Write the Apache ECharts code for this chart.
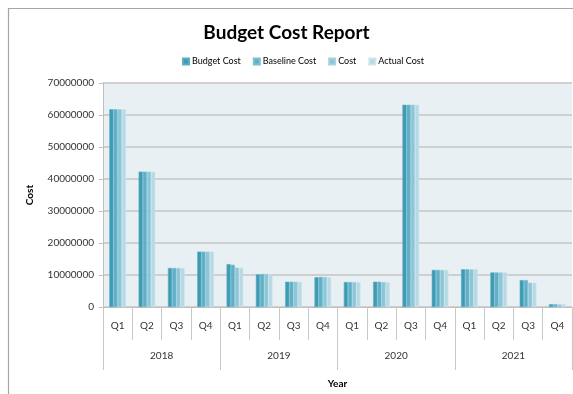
<!DOCTYPE html>
<html>
<head>
<meta charset="utf-8">
<script src="https://cdn.jsdelivr.net/npm/echarts@6/dist/echarts.min.js"></script>
<style>html,body{margin:0;padding:0;background:#fff}#c{width:573px;height:394px}</style>
</head>
<body>
<div id="c"></div>
<script>
var quarters = ['Q1','Q2','Q3','Q4','Q1','Q2','Q3','Q4','Q1','Q2','Q3','Q4','Q1','Q2','Q3','Q4'];
var years = ['2018','2019','2020','2021'];
var seriesNames = ['Budget Cost','Baseline Cost','Cost','Actual Cost'];
var budgetCost   = [61800000,42300000,12200000,17300000,13400000,10200000,7900000,9300000,7800000,7900000,63200000,11600000,11800000,10800000,8400000,900000];
var baselineCost = [61800000,42300000,12200000,17300000,13200000,10300000,7900000,9400000,7800000,7900000,63200000,11600000,11800000,10800000,8400000,900000];
var cost         = [61800000,42300000,12200000,17300000,12300000,10300000,7900000,9400000,7800000,7800000,63200000,11600000,11800000,10800000,7600000,800000];
var actualCost   = [61800000,42300000,12200000,17300000,12300000,10200000,7900000,9300000,7800000,7700000,63200000,11600000,11800000,10800000,7600000,800000];
var yTicks = [0,10000000,20000000,30000000,40000000,50000000,60000000,70000000];

var colors = ['#3f9bb3','#5fb0c6','#8cc5d6','#b6d9e4'];
var borders = ['#5aaec3','#7cc0d2','#a6d3e0','#cde6ee'];
var values = [budgetCost, baselineCost, cost, actualCost];
var FONT = 'Lato, "Open Sans", sans-serif';

var chart = echarts.init(document.getElementById('c'), null, {renderer:'canvas'});
var series = seriesNames.map(function(n,i){
  return {
    name:n, type:'bar', xAxisIndex:0, yAxisIndex:0,
    data: values[i],
    barGap:'0%', barCategoryGap:'43%',
    itemStyle:{color:colors[i], borderColor:borders[i], borderWidth:0.6},
    emphasis:{disabled:true}
  };
});
chart.setOption({
  animation:false,
  textStyle:{fontFamily:FONT},
  graphic:[{type:'rect', shape:{x:8.5,y:8.5,width:700,height:500}, style:{fill:null, stroke:'#a6a6a6', lineWidth:1.2}, silent:true}],
  title:{text:'Budget Cost Report', left:'center', top:18,
    textStyle:{fontFamily:FONT, fontSize:19, fontWeight:'bold', color:'#000'}},
  legend:{top:52, left:177, itemWidth:6, itemHeight:6, itemGap:12,
    icon:'rect',
    textStyle:{fontFamily:FONT, fontSize:9, color:'#000', padding:[0,0,0,-2]},
    data:seriesNames},
  grid:{left:103, right:1, top:83, bottom:87, show:true, backgroundColor:'#e8f0f4', borderWidth:0},
  xAxis:[{
    type:'category', data:quarters, position:'bottom',
    axisLine:{show:true, lineStyle:{color:'#bfbfbf', width:1}},
    axisTick:{show:true, length:33, lineStyle:{color:'#c8c8c8'}},
    axisLabel:{margin:14, fontSize:10, color:'#333', fontFamily:FONT},
    name:'Year', nameLocation:'middle', nameGap:72,
    nameTextStyle:{fontFamily:FONT, fontSize:10, fontWeight:'bold', color:'#000'}
  },{
    type:'category', data:years, position:'bottom',
    axisLine:{show:false},
    axisTick:{show:true, length:63, lineStyle:{color:'#c8c8c8'}},
    axisLabel:{margin:44, fontSize:10, color:'#333', fontFamily:FONT}
  }],
  yAxis:{
    type:'value', min:yTicks[0], max:yTicks[yTicks.length-1], interval:10000000,
    axisLine:{show:true, lineStyle:{color:'#bfbfbf'}},
    axisTick:{show:true, length:4, lineStyle:{color:'#bfbfbf'}},
    axisLabel:{margin:9, fontSize:10, color:'#333', fontFamily:FONT, formatter:function(v){return String(v);}},
    splitLine:{show:true, lineStyle:{color:'#c4c4c4', width:1.5}},
    name:'Cost', nameLocation:'middle', nameGap:68, nameRotate:90,
    nameTextStyle:{fontFamily:FONT, fontSize:10, fontWeight:'bold', color:'#000'}
  },
  series:series
});
</script>
</body>
</html>
